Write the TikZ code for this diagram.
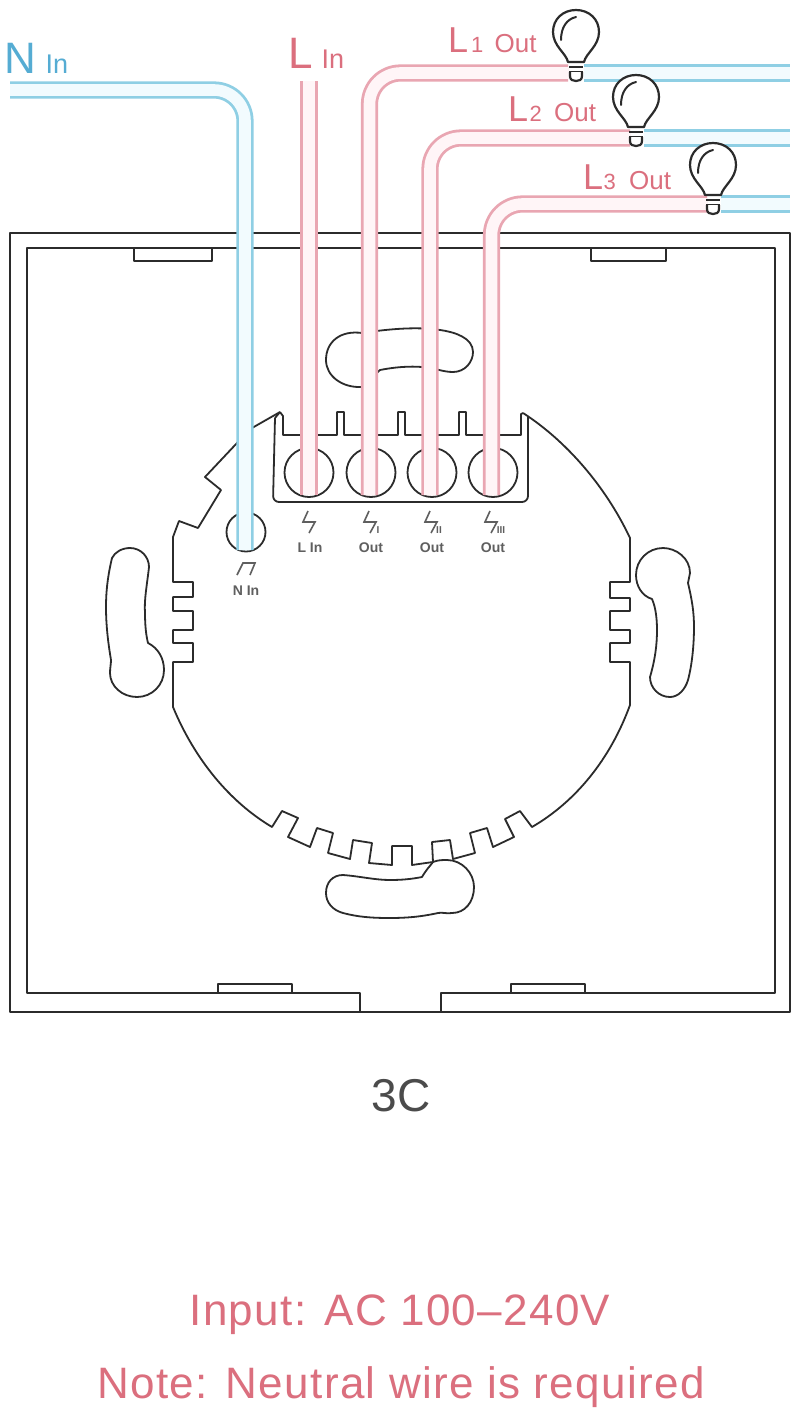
\documentclass[tikz,border=0pt]{standalone}
\usepackage{fontspec}
\setmainfont{Liberation Sans}
\definecolor{wred}{HTML}{E9A6B2}
\definecolor{wredin}{HTML}{FFF5F7}
\definecolor{wblue}{HTML}{8FCFE4}
\definecolor{wbluein}{HTML}{F2FBFE}
\definecolor{tred}{HTML}{DB6F7E}
\definecolor{tblue}{HTML}{55ACD3}
\definecolor{ink}{HTML}{2B2B2B}
\definecolor{lab}{HTML}{5F5F5F}
\tikzset{
  outline/.style={draw=ink,line width=1.8pt,line join=round},
  redwire/.style={draw=wred,line width=2.8pt,double=wredin,double distance=11.6pt,rounded corners=31pt},
  bluewire/.style={draw=wblue,line width=2.8pt,double=wbluein,double distance=11.6pt,rounded corners=31pt},
  bigtxt/.style={inner sep=0pt,anchor=base west},
  termtxt/.style={inner sep=0pt,anchor=base,font=\fontsize{14}{15}\selectfont\bfseries,text=lab},
  captxt/.style={inner sep=0pt,anchor=base,text=tred,font=\fontsize{44}{46}\selectfont\addfontfeatures{LetterSpace=3}},
  bolt/.style={draw=lab,line width=1.6pt},
  pics/bulb/.style={code={
    \draw[draw=ink,line width=2.2pt,fill=white,line join=round]
      (-8,29) .. controls (-10,20) and (-23,13) .. (-23,-1)
      .. controls (-23,-14) and (-13,-23) .. (0,-23)
      .. controls (13,-23) and (23,-14) .. (23,-1)
      .. controls (23,13) and (10,20) .. (8,29) -- cycle;
    \draw[draw=ink,line width=2pt,line cap=round] (-15,7) .. controls (-15,-6) and (-9,-14) .. (0,-16);
    \draw[draw=ink,line width=2pt] (-7,34) -- (7,34) (-7,39) -- (7,39);
    \draw[draw=ink,line width=2.2pt,fill=white] (-6,39) -- (-6,43) .. controls (-6,47) and (-3,48) .. (0,48) .. controls (3,48) and (6,47) .. (6,43) -- (6,39);
  }}
}
\begin{document}
\begin{tikzpicture}[x=1pt,y=-1pt]
\useasboundingbox (0,0) rectangle (800,1414);
\fill[white] (0,0) rectangle (800,1414);
% frame
\draw[outline] (10,233) rectangle (790,1012);
\draw[outline] (360,1012) -- (360,993) -- (27,993) -- (27,248) -- (775,248) -- (775,993) -- (441,993) -- (441,1012);
\draw[outline] (134,248) -- (134,261) -- (212,261) -- (212,248);
\draw[outline] (591,248) -- (591,261) -- (666,261) -- (666,248);
\draw[outline] (218,993) -- (218,984) -- (292,984) -- (292,993);
\draw[outline] (511,993) -- (511,984) -- (585,984) -- (585,993);
% housing outline
\draw[outline]
  (280,412) -- (252,428) -- (237,443) -- (205,477) -- (221,490) -- (198,528) -- (179,521) -- (173,537)
  -- (173,582) -- (193,582) -- (193,597) -- (173,597) -- (173,611) -- (193,611) -- (193,630) -- (173,630)
  -- (173,643) -- (193,643) -- (193,662) -- (173,662) -- (173,707)
  .. controls (195,760) and (230,802) .. (272,827)
  -- (282,811) -- (298,818) -- (288,837) -- (310,847) -- (317,828) -- (333,833) -- (328,853) -- (350,859)
  -- (353,840) -- (372,843) -- (369,863) -- (392,865) -- (392,846) -- (412,846) -- (412,865) -- (433,862)
  -- (432,842) -- (450,840) -- (453,859) -- (475,853) -- (470,833) -- (487,828) -- (493,847) -- (514,837)
  -- (505,819) -- (520,811) -- (532,827)
  .. controls (575,802) and (610,760) .. (630,705)
  -- (630,662) -- (610,662) -- (610,643) -- (630,643) -- (630,630) -- (610,630) -- (610,611) -- (630,611)
  -- (630,598) -- (610,598) -- (610,582) -- (630,582) -- (630,538)
  .. controls (605,485) and (565,440) .. (523,413);
% terminal block
\draw[outline] (280,412) -- (283,416) -- (283,435) -- (337,435) -- (337,412) -- (344,412) -- (344,435)
  -- (398,435) -- (398,412) -- (405,412) -- (405,435) -- (459,435) -- (459,412) -- (466,412) -- (466,435)
  -- (521,435) -- (521,414) -- (523,413);
\draw[outline,rounded corners=6pt] (275,418) -- (273,502) -- (528,502) -- (528,416);
\draw[outline] (275,418) -- (280,412);
\draw[outline] (309,472.5) circle[radius=24.5];
\draw[outline] (371,472.5) circle[radius=24.5];
\draw[outline] (432,472.5) circle[radius=24.5];
\draw[outline] (493,472.5) circle[radius=24.5];
\draw[outline] (246,532) circle[radius=19.5];
% slots
\draw[outline] (362,333) .. controls (340,330) and (326,342) .. (326,360)
  .. controls (326,376) and (342,388) .. (362,387) -- (380,370)
  .. controls (395,367) and (410,366) .. (422,367) .. controls (435,368) and (443,372) .. (453,372)
  .. controls (465,372) and (473,362) .. (473,352) .. controls (473,338) and (455,332) .. (440,330)
  .. controls (420,327) and (395,328) .. (362,333) -- cycle;
\draw[outline] (130,548) .. controls (141,548) and (149,557) .. (149,567)
  .. controls (147,585) and (144,600) .. (145,613) .. controls (145,625) and (146,635) .. (148,643)
  .. controls (158,648) and (164,658) .. (164,670) .. controls (164,685) and (152,697) .. (137,697)
  .. controls (122,697) and (110,686) .. (110,673) .. controls (110,668) and (111,664) .. (111,660)
  .. controls (108,642) and (106,625) .. (106,607) .. controls (106,590) and (108,575) .. (112,558)
  .. controls (115,552) and (122,548) .. (130,548) -- cycle;
\draw[outline] (663,548) .. controls (676,548) and (690,558) .. (690,573) -- (688,583)
  .. controls (692,600) and (694,612) .. (694,627) .. controls (694,645) and (692,665) .. (688,680)
  .. controls (685,690) and (678,697) .. (670,697) .. controls (659,697) and (650,688) .. (650,677)
  .. controls (655,660) and (657,645) .. (657,630) .. controls (657,620) and (656,608) .. (652,599)
  .. controls (642,596) and (636,586) .. (636,575) .. controls (636,560) and (648,548) .. (663,548) -- cycle;
\draw[outline] (422,877) .. controls (426,870) and (430,866) .. (433,862) .. controls (438,860) and (442,860) .. (447,860)
  .. controls (462,860) and (474,873) .. (474,887) .. controls (474,902) and (465,913) .. (452,913)
  .. controls (447,914) and (442,912) .. (438,913) .. controls (420,917) and (405,918) .. (390,918)
  .. controls (372,918) and (358,917) .. (343,913) .. controls (332,910) and (326,902) .. (326,893)
  .. controls (326,882) and (333,875) .. (343,875) .. controls (358,876) and (375,880) .. (390,880)
  .. controls (402,880) and (412,879) .. (422,877) -- cycle;
% wires
\draw[bluewire] (10,90) -- (245,90) -- (245,550);
\draw[redwire] (309,81) -- (309,495);
\draw[redwire] (369.5,495) -- (369.5,73) -- (568,73);
\draw[redwire] (430,495) -- (430,138) -- (630,138);
\draw[redwire] (491.5,495) -- (491.5,204) -- (707,204);
\draw[bluewire] (584,73) -- (790,73);
\draw[bluewire] (644,138) -- (790,138);
\draw[bluewire] (721,204) -- (790,204);
% bulbs
\pic at (576,33) {bulb};
\pic at (636,98) {bulb};
\pic at (713,166) {bulb};
% wire labels
\node[bigtxt,text=tblue,font=\fontsize{44}{46}\selectfont] (nbig) at (4.5,73) {N};
\node[bigtxt,text=tblue,font=\fontsize{27}{30}\selectfont] (nsm) at (45.5,73) {In};
\node[bigtxt,text=tred,font=\fontsize{44}{46}\selectfont] (lbig) at (288.5,68) {L};
\node[bigtxt,text=tred,font=\fontsize{27}{30}\selectfont] (lsm) at (321.5,68) {In};
\node[bigtxt,text=tred,font=\fontsize{36}{38}\selectfont] (la) at (448,52) {L};
\node[bigtxt,text=tred,font=\fontsize{22}{24}\selectfont] (lan) at (471,52) {1};
\node[bigtxt,text=tred,font=\fontsize{26}{28}\selectfont] (lao) at (494.5,52) {Out};
\node[bigtxt,text=tred,font=\fontsize{36}{38}\selectfont] (lb) at (508,121) {L};
\node[bigtxt,text=tred,font=\fontsize{22}{24}\selectfont] (lbn) at (529.5,121) {2};
\node[bigtxt,text=tred,font=\fontsize{26}{28}\selectfont] (lbo) at (554,121) {Out};
\node[bigtxt,text=tred,font=\fontsize{36}{38}\selectfont] (lc) at (583,189) {L};
\node[bigtxt,text=tred,font=\fontsize{22}{24}\selectfont] (lcn) at (603.5,189) {3};
\node[bigtxt,text=tred,font=\fontsize{26}{28}\selectfont] (lco) at (629,189) {Out};
% terminal labels
\draw[bolt] (308,511) -- (303,522) -- (315,522) -- (309,533);
\draw[bolt] (369,511) -- (364,522) -- (376,522) -- (370,533);
\draw[bolt] (430,511) -- (425,522) -- (437,522) -- (431,533);
\draw[bolt] (490,511) -- (485,522) -- (497,522) -- (491,533);
\node[termtxt,font=\fontsize{10}{11}\selectfont\bfseries] (s1) at (378,533) {I};
\node[termtxt,font=\fontsize{10}{11}\selectfont\bfseries] (s2) at (439,533) {II};
\node[termtxt,font=\fontsize{10}{11}\selectfont\bfseries] (s3) at (501,533) {III};
\draw[bolt] (237,575) -- (243,563) -- (255,563) -- (250,575);
\node[termtxt] (t1) at (310,552) {L In};
\node[termtxt] (t2) at (371,552) {Out};
\node[termtxt] (t3) at (432,552) {Out};
\node[termtxt] (t4) at (493,552) {Out};
\node[termtxt] (t5) at (246,595) {N In};
% captions
\node[inner sep=0pt,anchor=base,text=ink!85,font=\fontsize{46}{48}\selectfont] (cap) at (401,1111) {3C};
\node[captxt] (in) at (400,1325) {Input: AC 100–240V};
\node[captxt] (nt) at (401,1398) {Note: Neutral wire is required};
\end{tikzpicture}
\end{document}
